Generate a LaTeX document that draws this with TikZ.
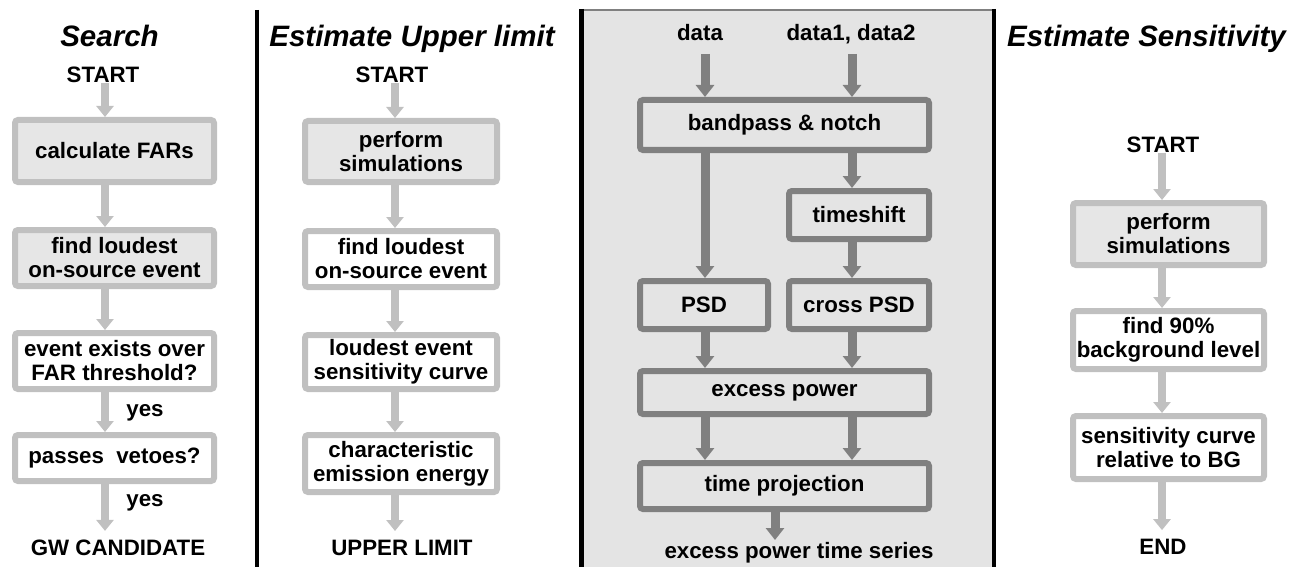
\documentclass[tikz,border=0pt]{standalone}
\usepackage{fontspec}
\setmainfont{Liberation Sans}
\usetikzlibrary{arrows.meta}
\definecolor{lgray}{HTML}{C0C0C0}
\definecolor{dgray}{HTML}{808080}
\definecolor{boxfill}{HTML}{E6E6E6}
\definecolor{panelfill}{HTML}{E4E4E4}
\begin{document}
\begin{tikzpicture}[x=1pt,y=-1pt,
 txt/.style={font=\fontsize{22.3}{24}\selectfont\bfseries, inner sep=0pt, align=center},
 ttl/.style={font=\fontsize{29.5}{32}\selectfont\bfseries\itshape, inner sep=0pt},
 lbox/.style={txt, draw=lgray, line width=6pt, rounded corners=3pt, fill=white},
 lboxg/.style={lbox, fill=boxfill},
 dbox/.style={txt, draw=dgray, line width=6pt, rounded corners=3pt, fill=panelfill},
 larr/.style={draw=lgray, line width=8pt, -{Triangle[width=17pt,length=11pt]}},
 darr/.style={draw=dgray, line width=9pt, -{Triangle[width=18pt,length=12pt]}},
 sepline/.style={line width=4pt, black}]
\useasboundingbox (0,0) rectangle (1306,567);

% panel and separators
\fill[panelfill] (582,10) rectangle (994,567);
\draw[dgray, line width=2pt] (582,10) -- (994,10);
\draw[line width=5pt] (581.5,9) -- (581.5,567);
\draw[line width=4pt] (994,9) -- (994,567);
\draw[sepline] (257,10) -- (257,567);

% ---------- Column 1: Search ----------
\coordinate (a1) at (105,0);
\node[ttl] (t1) at (109.5,36) {Search};
\node[txt] (s1) at (103,75) {START};
\node[lboxg, minimum width=199pt, minimum height=62pt] (c1b1) at (114.5,151) {calculate FARs};
\node[lboxg, minimum width=199pt, minimum height=56pt] (c1b2) at (114.5,258) {find loudest\\on-source event};
\node[lbox, minimum width=199pt, minimum height=56pt] (c1b3) at (114.5,361) {event exists over\\FAR threshold?};
\node[lbox, minimum width=199pt, minimum height=46pt] (c1b4) at (114.5,458) {passes~~vetoes?};
\node[txt] (y1) at (145,413) {yes};
\node[txt] (y2) at (145,503) {yes};
\node[txt] (gw) at (118,548) {GW CANDIDATE};
\draw[larr] (s1.south -| a1) -- (c1b1.north -| a1);
\draw[larr] (c1b1.south -| a1) -- (c1b2.north -| a1);
\draw[larr] (c1b2.south -| a1) -- (c1b3.north -| a1);
\draw[larr] (c1b3.south -| a1) -- (c1b4.north -| a1);
\draw[larr, shorten >=9pt] (c1b4.south -| a1) -- (gw.north -| a1);

% ---------- Column 2: Estimate Upper limit ----------
\coordinate (a2) at (395,0);
\node[ttl] (t2) at (412,38.5) {Estimate Upper limit};
\node[txt] (s2) at (392,75) {START};
\node[lboxg, minimum width=192pt, minimum height=61pt] (c2b1) at (401,151.5) {perform\\simulations};
\node[lbox, minimum width=192pt, minimum height=56pt] (c2b2) at (401,259) {find loudest\\on-source event};
\node[lbox, minimum width=192pt, minimum height=54pt] (c2b3) at (401,362) {loudest event\\sensitivity curve};
\node[lbox, minimum width=192pt, minimum height=57pt] (c2b4) at (401,463.5) {characteristic\\emission energy};
\node[txt] (ul) at (402,548) {UPPER LIMIT};
\draw[larr] (s2.south -| a2) -- (c2b1.north -| a2);
\draw[larr] (c2b1.south -| a2) -- (c2b2.north -| a2);
\draw[larr] (c2b2.south -| a2) -- (c2b3.north -| a2);
\draw[larr] (c2b3.south -| a2) -- (c2b4.north -| a2);
\draw[larr, shorten >=9pt] (c2b4.south -| a2) -- (ul.north -| a2);

% ---------- Column 3: panel ----------
\node[txt] (data) at (700,32.5) {data};
\node[txt] (data12) at (851,34) {data1, data2};
\coordinate (d1) at (705,54);
\coordinate (d2) at (852,54);
\coordinate (d3) at (775,540);
\node[dbox, minimum width=289pt, minimum height=50pt] (bp) at (784.5,125) {bandpass \& notch};
\node[dbox, minimum width=140pt, minimum height=48pt] (ts) at (859,215) {timeshift};
\node[dbox, minimum width=128pt, minimum height=48pt] (psd) at (704,305) {PSD};
\node[dbox, minimum width=140pt, minimum height=48pt] (cpsd) at (859,305) {cross PSD};
\node[dbox, minimum width=289pt, minimum height=43pt] (ep) at (784.5,392.5) {excess power};
\node[dbox, minimum width=289pt, minimum height=46pt] (tp) at (784.5,486) {time projection};
\node[txt] (eps) at (799,553) {excess power time series};
\draw[darr] (d1) -- (bp.north -| d1);
\draw[darr] (d2) -- (bp.north -| d2);
\draw[darr] (bp.south -| d1) -- (psd.north -| d1);
\draw[darr] (bp.south -| d2) -- (ts.north -| d2);
\draw[darr] (ts.south -| d2) -- (cpsd.north -| d2);
\draw[darr] (psd.south -| d1) -- (ep.north -| d1);
\draw[darr] (cpsd.south -| d2) -- (ep.north -| d2);
\draw[darr] (ep.south -| d1) -- (tp.north -| d1);
\draw[darr] (ep.south -| d2) -- (tp.north -| d2);
\draw[darr] (tp.south -| d3) -- (d3);

% ---------- Column 4: Estimate Sensitivity ----------
\coordinate (a4) at (1162,0);
\node[ttl] (t4) at (1146.5,39) {Estimate Sensitivity};
\node[txt] (s4) at (1163,145) {START};
\node[lboxg, minimum width=191pt, minimum height=62pt] (c4b1) at (1168.5,234) {perform\\simulations};
\node[lbox, minimum width=191pt, minimum height=58pt] (c4b2) at (1168.5,340) {find 90\%\\background level};
\node[lbox, minimum width=191pt, minimum height=63pt] (c4b3) at (1168.5,447.5) {sensitivity curve\\relative to BG};
\node[txt] (en) at (1163,547) {END};
\draw[larr] (s4.south -| a4) -- (c4b1.north -| a4);
\draw[larr] (c4b1.south -| a4) -- (c4b2.north -| a4);
\draw[larr] (c4b2.south -| a4) -- (c4b3.north -| a4);
\draw[larr, shorten >=9pt] (c4b3.south -| a4) -- (en.north -| a4);
\end{tikzpicture}
\end{document}
